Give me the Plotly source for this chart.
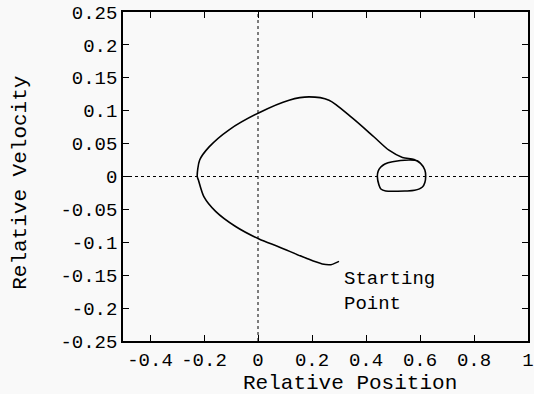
import plotly.graph_objects as go

# Phase-plane trajectory (starting point first)
pos = [0.300, 0.270, 0.238, 0.177, 0.078, 0.004, -0.083, -0.157, -0.200, -0.221, -0.225,
       -0.216, -0.181, -0.107, 0.004, 0.115, 0.189, 0.263, 0.349, 0.430, 0.485, 0.535,
       0.578, 0.602, 0.618, 0.621, 0.618, 0.609, 0.580, 0.547, 0.473, 0.455, 0.448,
       0.442, 0.445, 0.454, 0.470, 0.498, 0.559, 0.590, 0.602]
vel = [-0.129, -0.134, -0.133, -0.124, -0.107, -0.095, -0.076, -0.053, -0.031, -0.005, 0.000,
       0.025, 0.045, 0.071, 0.097, 0.116, 0.121, 0.116, 0.089, 0.060, 0.040, 0.029,
       0.026, 0.020, 0.010, 0.000, -0.009, -0.016, -0.021, -0.022, -0.022, -0.019, -0.013,
       0.000, 0.008, 0.014, 0.019, 0.0225, 0.025, 0.024, 0.020]

x_ticks = [-0.4, -0.2, 0, 0.2, 0.4, 0.6, 0.8, 1]
x_labels = ["-0.4", "-0.2", "0", "0.2", "0.4", "0.6", "0.8", "1"]
y_ticks = [0.25, 0.2, 0.15, 0.1, 0.05, 0, -0.05, -0.1, -0.15, -0.2, -0.25]
y_labels = ["0.25", "0.2", "0.15", "0.1", "0.05", "0", "-0.05", "-0.1", "-0.15", "-0.2", "-0.25"]

FONT = "Liberation Mono, Courier New, monospace"

fig = go.Figure()
fig.add_trace(go.Scatter(x=pos, y=vel, mode="lines",
                         line=dict(color="black", width=1.6, shape="spline", smoothing=0.8),
                         showlegend=False, hoverinfo="skip"))

axis_common = dict(showgrid=False, zeroline=False, ticks="inside", ticklen=6, tickwidth=1.2,
                   tickcolor="black", showline=True, linecolor="black", linewidth=1.6,
                   mirror="ticks", automargin=False,
                   tickfont=dict(family=FONT, size=19, color="black"))

fig.update_xaxes(range=[-0.5, 1], tickvals=x_ticks, ticktext=x_labels, **axis_common)
fig.update_yaxes(range=[-0.25, 0.25], tickvals=y_ticks, ticktext=y_labels, **axis_common)

# dotted zero lines
fig.add_shape(type="line", xref="x", yref="paper", x0=0, x1=0, y0=0, y1=1,
              line=dict(color="black", width=1, dash="dot"))
fig.add_shape(type="line", xref="paper", yref="y", x0=0, x1=1, y0=0, y1=0,
              line=dict(color="black", width=1, dash="dot"))

fig.add_annotation(x=pos[0] + 0.01, y=vel[0] - 0.007, xref="x", yref="y", text="Starting<br>Point",
                   showarrow=False, xanchor="left", yanchor="top", align="left",
                   font=dict(family=FONT, size=19, color="black"))

fig.add_annotation(x=0.56, y=-0.13, xref="paper", yref="paper", text="Relative Position",
                   showarrow=False, xanchor="center", yanchor="middle",
                   font=dict(family=FONT, size=21, color="black"))
fig.add_annotation(x=-0.255, y=0.48, xref="paper", yref="paper", text="Relative Velocity",
                   showarrow=False, textangle=-90, xanchor="center", yanchor="middle",
                   font=dict(family=FONT, size=21, color="black"))

fig.update_layout(width=534, height=394, margin=dict(l=123, r=6, t=12, b=53),
                  paper_bgcolor="#f9f9f9", plot_bgcolor="#f9f9f9")

fig.write_html("out.html")
